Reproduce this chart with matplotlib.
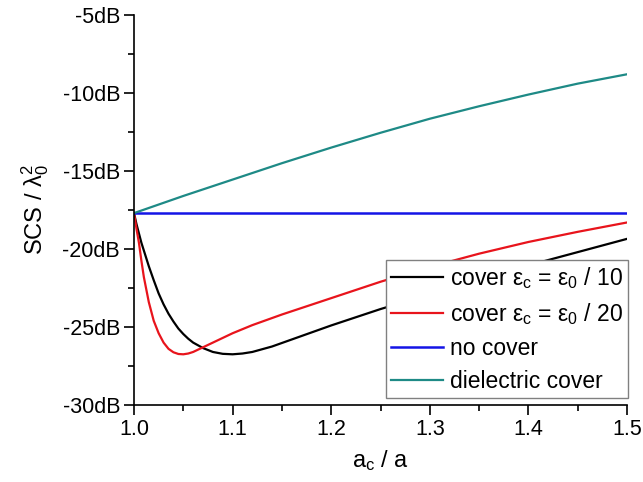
import numpy as np
import matplotlib
matplotlib.use("Agg")
import matplotlib.pyplot as plt
from matplotlib.ticker import MultipleLocator, FuncFormatter

plt.rcParams['font.family'] = ['Liberation Sans', 'DejaVu Sans']
plt.rcParams['mathtext.fontset'] = 'custom'
plt.rcParams['mathtext.rm'] = 'Liberation Sans'
plt.rcParams['mathtext.it'] = 'Liberation Sans'

# données (SCS / lambda0^2 en dB)
x_black = [1.0, 1.0025, 1.005, 1.0075, 1.01, 1.015, 1.02, 1.025, 1.03, 1.035, 1.04, 1.045,
           1.05, 1.055, 1.06, 1.07, 1.08, 1.09, 1.10, 1.11, 1.12, 1.14, 1.16, 1.18, 1.2,
           1.25, 1.3, 1.35, 1.4, 1.45, 1.5]
y_black = [-17.7, -18.4, -19.0, -19.6, -20.1, -21.1, -22.0, -22.85, -23.55, -24.15, -24.65, -25.1,
           -25.45, -25.75, -26.0, -26.35, -26.6, -26.72, -26.75, -26.7, -26.6, -26.25, -25.8,
           -25.35, -24.9, -23.85, -22.9, -21.95, -21.05, -20.2, -19.35]

x_red = [1.0, 1.0025, 1.005, 1.0075, 1.01, 1.015, 1.02, 1.025, 1.03, 1.035, 1.04, 1.045,
         1.05, 1.055, 1.06, 1.07, 1.08, 1.09, 1.10, 1.12, 1.15, 1.2, 1.25, 1.3, 1.35, 1.4,
         1.45, 1.5]
y_red = [-17.7, -18.7, -19.6, -20.75, -21.8, -23.4, -24.6, -25.4, -26.0, -26.4, -26.62, -26.73,
         -26.75, -26.7, -26.6, -26.3, -26.0, -25.7, -25.4, -24.88, -24.2, -23.15, -22.1, -21.15,
         -20.3, -19.55, -18.9, -18.3]

x_blue = [1.0, 1.5]
y_blue = [-17.7, -17.7]

x_teal = [1.0, 1.05, 1.1, 1.15, 1.2, 1.25, 1.3, 1.35, 1.4, 1.45, 1.5]
y_teal = [-17.7, -16.6, -15.55, -14.5, -13.5, -12.55, -11.65, -10.85, -10.1, -9.4, -8.8]

labels = [r'cover $\mathregular{ε_c}$ = $\mathregular{ε_0}$ / 10',
          r'cover $\mathregular{ε_c}$ = $\mathregular{ε_0}$ / 20',
          'no cover',
          'dielectric cover']

fig = plt.figure(figsize=(6.43, 4.82), dpi=100)
ax = fig.add_axes([134 / 643, 77 / 482, 493 / 643, 390 / 482])

ax.plot(x_black, y_black, color='black', lw=1.6, label=labels[0])
ax.plot(x_red, y_red, color='#e8141c', lw=1.6, label=labels[1])
ax.plot(x_blue, y_blue, color='#1414e6', lw=1.8, label=labels[2])
ax.plot(x_teal, y_teal, color='#1e8a86', lw=1.6, label=labels[3])

ax.set_xlim(1.0, 1.5)
ax.set_ylim(-30, -5)
ax.xaxis.set_major_locator(MultipleLocator(0.1))
ax.xaxis.set_minor_locator(MultipleLocator(0.05))
ax.yaxis.set_major_locator(MultipleLocator(5))
ax.yaxis.set_minor_locator(MultipleLocator(2.5))
ax.xaxis.set_major_formatter(FuncFormatter(lambda v, p: f'{v:.1f}'))
ax.yaxis.set_major_formatter(FuncFormatter(lambda v, p: f'{v:.0f}dB'))

for s in ['top', 'right']:
    ax.spines[s].set_visible(False)
for s in ['left', 'bottom']:
    ax.spines[s].set_linewidth(1.2)
ax.tick_params(which='major', direction='out', length=7, width=1.2, labelsize=15.5, pad=3)
ax.tick_params(which='minor', direction='out', length=4, width=1.2)

ax.set_xlabel(r'$\mathregular{a_c}$ / a', fontsize=17, labelpad=6)
ax.set_ylabel(r'SCS / $\mathregular{\lambda_0^2}$', fontsize=17, labelpad=8)

leg = ax.legend(loc='lower right', bbox_to_anchor=(1.002, 0.018), fontsize=16.5,
                frameon=True, fancybox=False, framealpha=1, edgecolor='#808080',
                handlelength=2.3, handletextpad=0.3, borderpad=0.2, labelspacing=0.45,
                borderaxespad=0)
leg.get_frame().set_linewidth(1.0)

fig.savefig('out.png', dpi=100)
